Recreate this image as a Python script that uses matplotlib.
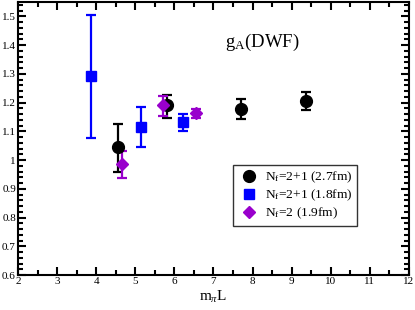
import matplotlib
matplotlib.use('Agg')
import matplotlib.pyplot as plt
from matplotlib.lines import Line2D
from matplotlib.ticker import MultipleLocator, FuncFormatter

plt.rcParams['font.family'] = 'Liberation Serif'
plt.rcParams['mathtext.fontset'] = 'custom'
plt.rcParams['mathtext.rm'] = 'Liberation Serif'
plt.rcParams['mathtext.it'] = 'Liberation Serif:italic'

# N_f=2+1 (2.7fm)
x_27 = [4.56, 5.80, 7.70, 9.36]
y_27 = [1.045, 1.190, 1.177, 1.204]
lo_27 = [0.960, 1.148, 1.143, 1.173]
hi_27 = [1.125, 1.228, 1.212, 1.236]

# N_f=2+1 (1.8fm)
x_18 = [3.86, 5.15, 6.23]
y_18 = [1.291, 1.115, 1.132]
lo_18 = [1.078, 1.045, 1.101]
hi_18 = [1.506, 1.184, 1.161]

# N_f=2 (1.9fm)
x_19 = [4.65, 5.72, 6.54]
y_19 = [0.985, 1.190, 1.165]
lo_19 = [0.939, 1.155, 1.148]
hi_19 = [1.032, 1.222, 1.179]

series = [
    (x_27, y_27, lo_27, hi_27, 'o', 'black', 8.5, r'N$_\mathrm{f}$=2+1 (2.7fm)'),
    (x_18, y_18, lo_18, hi_18, 's', 'blue', 7.5, r'N$_\mathrm{f}$=2+1 (1.8fm)'),
    (x_19, y_19, lo_19, hi_19, 'D', '#9900cc', 6.5, r'N$_\mathrm{f}$=2 (1.9fm)'),
]

fig = plt.figure(figsize=(4.15, 3.10), dpi=100)
ax = fig.add_axes([0.0434, 0.1129, 0.9421, 0.8806])

handles = []
for xs, ys, lo, hi, mk, col, ms, lab in series:
    err = [[y - l for y, l in zip(ys, lo)], [h - y for y, h in zip(ys, hi)]]
    ax.errorbar(xs, ys, yerr=err, fmt=mk, color=col, ms=ms, elinewidth=1.6,
                capsize=3.5, capthick=1.6, zorder=3)
    handles.append(Line2D([], [], ls='none', marker=mk, color=col, ms=ms, label=lab))

ax.set_xlim(2, 12)
ax.set_ylim(0.6, 1.55)
ax.xaxis.set_major_locator(MultipleLocator(1))
ax.xaxis.set_minor_locator(MultipleLocator(0.5))
ax.yaxis.set_major_locator(MultipleLocator(0.1))
ax.yaxis.set_minor_locator(MultipleLocator(0.02))
fmt = FuncFormatter(lambda v, p: '%g' % round(v, 2))
ax.xaxis.set_major_formatter(fmt)
ax.yaxis.set_major_formatter(fmt)
ax.tick_params(which='both', direction='in', top=True, right=True,
               labelsize=8, width=1.5, pad=1.5)
ax.tick_params(which='major', length=6)
ax.tick_params(which='minor', length=3.5)
for s in ax.spines.values():
    s.set_linewidth(1.5)

ax.set_xlabel(r'm$_\pi$L', fontsize=11, labelpad=2)
ax.text(8.25, 1.41, r'g$_\mathrm{A}$(DWF)', fontsize=13.5, ha='center', va='center')

leg = ax.legend(handles=handles, loc='upper left', bbox_to_anchor=(0.55, 0.403),
                fontsize=9.7, frameon=True, fancybox=False, edgecolor='black',
                handletextpad=0.4, borderpad=0.35, labelspacing=0.2,
                handlelength=1.6, borderaxespad=0)
leg.get_frame().set_linewidth(1.0)

fig.savefig('out.png', dpi=100)
